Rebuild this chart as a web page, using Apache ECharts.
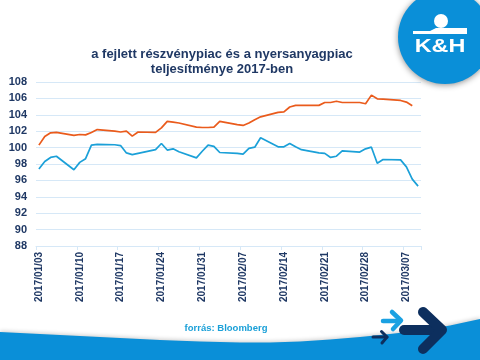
<!DOCTYPE html>
<html>
<head>
<meta charset="utf-8">
<script src="https://cdn.jsdelivr.net/npm/echarts@6/dist/echarts.min.js"></script>
<style>
html,body{margin:0;padding:0;background:#fff;}
#c{width:480px;height:360px;}
</style>
</head>
<body>
<div id="c"></div>
<script>
// Trading days (weekdays) shown in the chart
const tradingDays = [
  '2017/01/03','2017/01/04','2017/01/05','2017/01/06',
  '2017/01/09','2017/01/10','2017/01/11','2017/01/12','2017/01/13',
  '2017/01/16','2017/01/17','2017/01/18','2017/01/19','2017/01/20',
  '2017/01/23','2017/01/24','2017/01/25','2017/01/26','2017/01/27',
  '2017/01/30','2017/01/31','2017/02/01','2017/02/02','2017/02/03',
  '2017/02/06','2017/02/07','2017/02/08','2017/02/09','2017/02/10',
  '2017/02/13','2017/02/14','2017/02/15','2017/02/16','2017/02/17',
  '2017/02/20','2017/02/21','2017/02/22','2017/02/23','2017/02/24',
  '2017/02/27','2017/02/28','2017/03/01','2017/03/02','2017/03/03',
  '2017/03/06','2017/03/07','2017/03/08','2017/03/09'
];
// fejlett részvénypiac (orange)
const equityValues = [
  100.3, 101.35, 101.8, 101.85,
  101.5, 101.6, 101.55, 101.85, 102.2,
  102.0, 101.9, 102.0, 101.4, 101.9,
  101.85, 102.4, 103.2, 103.1, 103.0,
  102.5, 102.45, 102.45, 102.5, 103.2,
  102.8, 102.7, 103.0, 103.4, 103.75,
  104.3, 104.35, 104.95, 105.15, 105.15,
  105.15, 105.5, 105.5, 105.65, 105.5,
  105.5, 105.35, 106.4, 105.95, 105.9,
  105.75, 105.55, 105.1, null
];
// nyersanyagpiac (blue)
const commodityValues = [
  97.4, 98.3, 98.8, 98.95,
  97.3, 98.2, 98.65, 100.3, 100.4,
  100.35, 100.25, 99.35, 99.15, 99.3,
  99.75, 100.5, 99.7, 99.85, 99.5,
  98.75, 99.55, 100.3, 100.15, 99.4,
  99.3, 99.2, 99.9, 100.05, 101.2,
  100.1, 100.1, 100.5, 100.1, 99.75,
  99.35, 99.3, 98.8, 98.95, 99.6,
  99.45, 99.85, 100.05, 98.1, 98.55,
  98.5, 97.65, 96.15, 95.3
];
const yMin = 88, yMax = 108, yStep = 2;
const titleText = 'a fejlett részvénypiac és a nyersanyagpiac\nteljesítménye 2017-ben';
const sourceText = 'forrás: Bloomberg';

// Build calendar-day category axis (date axis in original)
function fmt(d){
  const m = String(d.getMonth()+1).padStart(2,'0');
  const dd = String(d.getDate()).padStart(2,'0');
  return d.getFullYear()+'/'+m+'/'+dd;
}
const first = new Date(2017,0,3), last = new Date(2017,2,9);
const calendar = [];
for (let d = new Date(first); d <= last; d.setDate(d.getDate()+1)) calendar.push(fmt(d));
const eqMap = {}, cmMap = {};
tradingDays.forEach((t,i)=>{ eqMap[t]=equityValues[i]; cmMap[t]=commodityValues[i]; });
const eqData = calendar.map(t => (t in eqMap) ? eqMap[t] : null);
const cmData = calendar.map(t => (t in cmMap) ? cmMap[t] : null);

const navy = '#1F3864';
const font = 'Liberation Sans, Arial, sans-serif';

const chart = echarts.init(document.getElementById('c'), null, {renderer:'canvas'});

function arrow(pts, color, w){
  return {type:'polyline', z:20, shape:{points:pts}, style:{stroke:color, lineWidth:w, lineCap:'round', lineJoin:'round', fill:null}, silent:true};
}

chart.setOption({
  animation:false,
  backgroundColor:'#ffffff',
  title:{
    text:titleText, left:217, top:42, textAlign:'center',
    textStyle:{color:navy, fontSize:13, fontWeight:'bold', fontFamily:font, lineHeight:15}
  },
  grid:{left:36, right:59, top:82, bottom:114, containLabel:false},
  xAxis:{
    type:'category', data:calendar, boundaryGap:true,
    axisLine:{show:true, lineStyle:{color:'#D6E8F7', width:1}},
    axisTick:{show:true, interval:6, length:4, lineStyle:{color:'#D6E8F7'}},
    axisLabel:{interval:6, rotate:90, color:navy, fontSize:10, fontWeight:'bold', fontFamily:font, margin:6}
  },
  yAxis:{
    type:'value', min:yMin, max:yMax, interval:yStep,
    axisLine:{show:false}, axisTick:{show:false},
    axisLabel:{color:navy, fontSize:11, fontWeight:'bold', fontFamily:font, margin:9},
    splitLine:{lineStyle:{color:'#D6E8F7', width:1}}
  },
  series:[
    {name:'fejlett részvénypiac', type:'line', data:eqData, connectNulls:true, showSymbol:false,
     lineStyle:{color:'#EA5B1C', width:1.7}, itemStyle:{color:'#EA5B1C'}},
    {name:'nyersanyagpiac', type:'line', data:cmData, connectNulls:true, showSymbol:false,
     lineStyle:{color:'#1BA0D8', width:1.7}, itemStyle:{color:'#1BA0D8'}}
  ],
  graphic:[
    // bottom swoosh
    {type:'polygon', silent:true, z:5,
     shape:{points:[[0,332],[40,334],[80,336],[120,338],[160,340],[200,341.5],[240,342.5],[270,342.5],[300,341.5],[330,339.5],[360,337],[390,334],[420,330.5],[450,325.5],[480,319],[480,360],[0,360]]},
     style:{fill:'#0A8FD8', shadowBlur:4, shadowColor:'rgba(0,0,0,0.2)', shadowOffsetY:-1}},
    // arrows
    arrow([[383,321],[400,321]], '#1BA1E2', 4.5),
    arrow([[392,312],[401,320.5],[393,329]], '#1BA1E2', 4.5),
    arrow([[373,337],[387,337]], '#0D2F5E', 3),
    arrow([[381.5,331.5],[387,337],[382,343]], '#0D2F5E', 3),
    arrow([[404,330],[441,330]], '#0D2F5E', 10),
    arrow([[423,312],[442,330],[423,349]], '#0D2F5E', 10),
    // logo
    {type:'circle', silent:true, z:5, shape:{cx:445, cy:37, r:47},
     style:{fill:'#0A8FD8', shadowBlur:6, shadowColor:'rgba(0,0,0,0.45)', shadowOffsetY:1}},
    {type:'circle', silent:true, z:6, shape:{cx:441, cy:21, r:7}, style:{fill:'#ffffff'}},
    {type:'polygon', silent:true, z:6, shape:{points:[[413,31],[430,31],[436,28],[467,28],[467,34],[413,34]]}, style:{fill:'#ffffff'}},
    {type:'text', silent:true, z:6, x:440, y:47, scaleX:1.3,
     style:{text:'K&H', fill:'#ffffff', font:'bold 18px Liberation Sans, Arial, sans-serif', textAlign:'center', textVerticalAlign:'middle'}},
    // source
    {type:'text', silent:true, z:6, x:226, y:328,
     style:{text:sourceText, fill:'#1BA0D8', font:'bold 9.5px Liberation Sans, Arial, sans-serif', textAlign:'center', textVerticalAlign:'middle'}}
  ]
});
</script>
</body>
</html>
